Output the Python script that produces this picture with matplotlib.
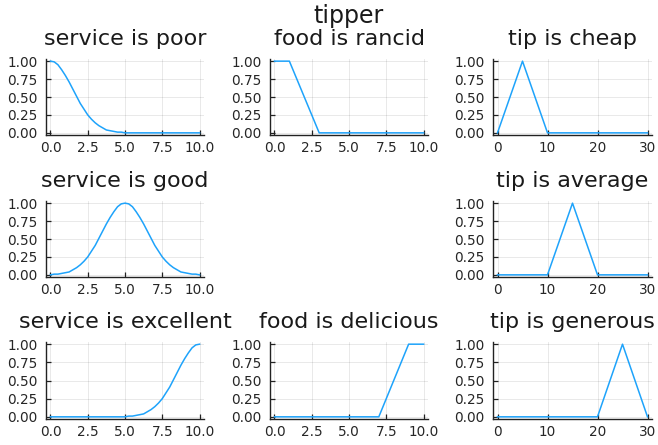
import matplotlib
matplotlib.use("Agg")
import matplotlib.pyplot as plt
import numpy as np

service_x = np.linspace(0, 10, 41)
service_poor = [1.00, 0.99, 0.95, 0.88, 0.80, 0.71, 0.61, 0.51, 0.41, 0.33, 0.25,
                0.19, 0.14, 0.10, 0.07, 0.04, 0.03, 0.02, 0.01, 0.01, 0.00,
                0, 0, 0, 0, 0, 0, 0, 0, 0, 0, 0, 0, 0, 0, 0, 0, 0, 0, 0, 0]
service_good = [0.00, 0.01, 0.01, 0.02, 0.03, 0.04, 0.07, 0.10, 0.14, 0.19, 0.25,
                0.33, 0.41, 0.51, 0.61, 0.71, 0.80, 0.88, 0.95, 0.99, 1.00,
                0.99, 0.95, 0.88, 0.80, 0.71, 0.61, 0.51, 0.41, 0.33, 0.25,
                0.19, 0.14, 0.10, 0.07, 0.04, 0.03, 0.02, 0.01, 0.01, 0.00]
service_excellent = [0, 0, 0, 0, 0, 0, 0, 0, 0, 0, 0, 0, 0, 0, 0, 0, 0, 0, 0, 0,
                     0.00, 0.01, 0.01, 0.02, 0.03, 0.04, 0.07, 0.10, 0.14, 0.19, 0.25,
                     0.33, 0.41, 0.51, 0.61, 0.71, 0.80, 0.88, 0.95, 0.99, 1.00]

food_rancid_x = [0, 1, 3, 10]
food_rancid = [1, 1, 0, 0]
food_delicious_x = [0, 7, 9, 10]
food_delicious = [0, 0, 1, 1]

tip_cheap_x = [0, 5, 10, 30]
tip_cheap = [0, 1, 0, 0]
tip_average_x = [0, 10, 15, 20, 30]
tip_average = [0, 0, 1, 0, 0]
tip_generous_x = [0, 20, 25, 30]
tip_generous = [0, 0, 1, 0]

service_ticks = [0.0, 2.5, 5.0, 7.5, 10.0]
tip_ticks = [0, 10, 20, 30]
y_ticks = [0.00, 0.25, 0.50, 0.75, 1.00]

# (row, col, title, x, y, kind)
panels = [
    (0, 0, "service is poor", service_x, service_poor, "s"),
    (0, 1, "food is rancid", food_rancid_x, food_rancid, "s"),
    (0, 2, "tip is cheap", tip_cheap_x, tip_cheap, "t"),
    (1, 0, "service is good", service_x, service_good, "s"),
    (1, 2, "tip is average", tip_average_x, tip_average, "t"),
    (2, 0, "service is excellent", service_x, service_excellent, "s"),
    (2, 1, "food is delicious", food_delicious_x, food_delicious, "s"),
    (2, 2, "tip is generous", tip_generous_x, tip_generous, "t"),
]

W, H = 658.0, 445.0
col_left = [46, 270, 493]
col_w = [158, 158, 159]
row_top = [59, 201, 342]
row_h = [76, 76, 77]

fig = plt.figure(figsize=(6.58, 4.45), dpi=100)
fig.patch.set_facecolor("white")

line_col = "#1ea3fb"
txt_col = "#262626"

for r, c, title, x, y, kind in panels:
    ax = fig.add_axes([col_left[c] / W, 1 - (row_top[r] + row_h[r]) / H,
                       col_w[c] / W, row_h[r] / H])
    ax.plot(x, y, color=line_col, lw=1.1)
    if kind == "s":
        ax.set_xlim(-0.3, 10.3)
        ax.set_xticks(service_ticks)
        ax.set_xticklabels(["%.1f" % t for t in service_ticks])
    else:
        ax.set_xlim(-0.9, 30.9)
        ax.set_xticks(tip_ticks)
        ax.set_xticklabels([str(t) for t in tip_ticks])
    ax.set_ylim(-0.03, 1.03)
    ax.set_yticks(y_ticks)
    ax.set_yticklabels(["%.2f" % t for t in y_ticks])
    ax.grid(True, color="black", alpha=0.1, lw=0.6)
    ax.set_axisbelow(True)
    for s in ["top", "right"]:
        ax.spines[s].set_visible(False)
    for s in ["left", "bottom"]:
        ax.spines[s].set_color("#222222")
        ax.spines[s].set_linewidth(1.0)
    ax.tick_params(direction="in", length=3.5, width=0.9, labelsize=9.8,
                   colors="#222222", labelcolor=txt_col)
    ax.tick_params(axis="y", pad=6)
    ax.tick_params(axis="x", pad=4)
    ax.set_title(title, fontsize=16, color="#1a1a1a", pad=10)

fig.text(349 / W, 1 - 23 / H, "tipper", fontsize=17, color="#1a1a1a",
         ha="center", va="baseline")

fig.savefig("out.png", dpi=100)
